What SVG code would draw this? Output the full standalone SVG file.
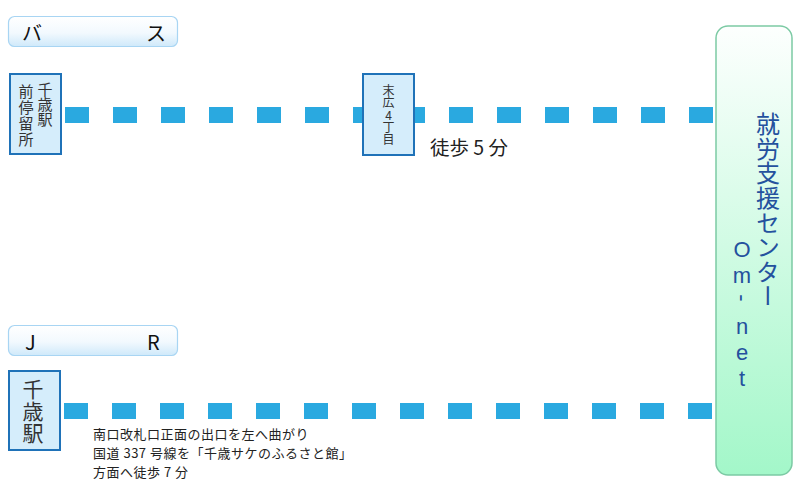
<svg xmlns="http://www.w3.org/2000/svg" width="800" height="500" viewBox="0 0 800 500">
  <defs>
    <linearGradient id="gLabel" x1="0" y1="0" x2="0" y2="1">
      <stop offset="0" stop-color="#ffffff"/>
      <stop offset="0.55" stop-color="#f2f9fe"/>
      <stop offset="1" stop-color="#cfe9fa"/>
    </linearGradient>
    <linearGradient id="gCenter" x1="0" y1="0" x2="0" y2="1">
      <stop offset="0" stop-color="#fdfffe"/>
      <stop offset="1" stop-color="#a3f7c9"/>
    </linearGradient>
    <style>
      .label { fill: url(#gLabel); stroke: #a8d5f3; stroke-width: 1.2; }
      .labeltxt { font-family: "Noto Sans CJK JP", "Noto Sans", sans-serif; font-size: 20px; fill: #111; }
      .stop { fill: #d5edfb; stroke: #1f72b8; stroke-width: 2; }
      .vt { font-family: "Noto Sans CJK JP", sans-serif; writing-mode: vertical-rl; text-orientation: upright; }
      .stoptxt { fill: #333; }
      .center { fill: url(#gCenter); stroke: #7ccaa4; stroke-width: 1.5; }
      .ctxt { fill: #24519e; font-size: 24px; letter-spacing: 0.6px; }
      .ltxt { font-family: "Liberation Sans", Arial, sans-serif; fill: #24519e; text-anchor: middle; font-size: 22px; }
      .route { fill: none; stroke: #2aa9e0; stroke-width: 16; stroke-dasharray: 24 24; }
      .note { font-family: "Noto Sans CJK JP", sans-serif; fill: #222; }
    </style>
  </defs>

  <g id="connectors">
    <line class="route" x1="65" y1="115" x2="713" y2="115"/>
    <line class="route" x1="64" y1="411" x2="712" y2="411"/>
  </g>

  <g id="label-bus">
    <rect class="label" x="8.5" y="16.5" width="169" height="30" rx="6"/>
    <text class="labeltxt" x="22" y="41">バ</text>
    <text class="labeltxt" x="146" y="41">ス</text>
  </g>

  <g id="stop-chitose-mae">
    <rect class="stop" x="10" y="74" width="51" height="80"/>
    <text class="vt stoptxt" x="45" y="81.5" font-size="15">千歳駅</text>
    <text class="vt stoptxt" x="26" y="84" font-size="15" letter-spacing="1">前停留所</text>
  </g>

  <g id="stop-suehiro">
    <rect class="stop" x="363" y="74" width="51" height="81"/>
    <text class="vt stoptxt" x="388.5" y="84.5" font-size="12" letter-spacing="0.3">末広4丁目</text>
  </g>

  <g id="note-walk5">
    <text class="note" x="430" y="155" font-size="19.5">徒歩 5 分</text>
  </g>

  <g id="label-jr">
    <rect class="label" x="8.5" y="325.5" width="169" height="30" rx="6"/>
    <text class="labeltxt" x="25" y="350">J</text>
    <text class="labeltxt" x="147" y="350">R</text>
  </g>

  <g id="station-chitose">
    <rect class="stop" x="9" y="371" width="51" height="79"/>
    <text class="vt stoptxt" x="33" y="378.5" font-size="21" letter-spacing="1">千歳駅</text>
  </g>

  <g id="note-route" class="note" font-size="13" letter-spacing="0.5">
    <text x="93" y="439">南口改札口正面の出口を左へ曲がり</text>
    <text x="93" y="458">国道 337 号線を「千歳サケのふるさと館」</text>
    <text x="93" y="477">方面へ徒歩 7 分</text>
  </g>

  <g id="center-omnet">
    <rect class="center" x="716" y="26" width="76" height="449" rx="12"/>
    <text class="vt ctxt" x="768" y="112">就労支援センター</text>
    <text class="ltxt" x="742" y="257">O</text>
    <text class="ltxt" x="742" y="283">m</text>
    <text class="ltxt" x="742" y="305" transform="rotate(90 742 298)">-</text>
    <text class="ltxt" x="742" y="334">n</text>
    <text class="ltxt" x="742" y="360">e</text>
    <text class="ltxt" x="742" y="386">t</text>
  </g>
</svg>
